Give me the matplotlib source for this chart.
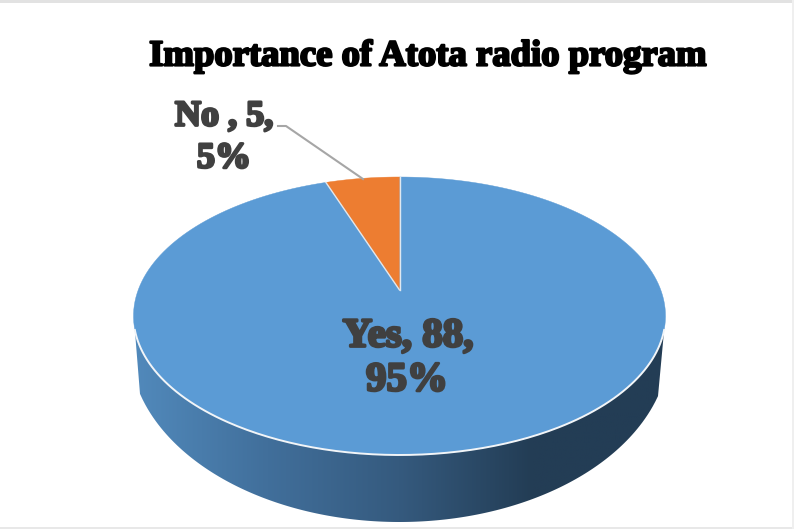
import numpy as np
import matplotlib
matplotlib.use("Agg")
import matplotlib.pyplot as plt
import matplotlib.patheffects as pe
from matplotlib.colors import LinearSegmentedColormap
from matplotlib.patches import Polygon, Rectangle

title = "Importance of Atota radio program"
categories = ["Yes", "No "]
counts = [88, 5]
colors = ["#5b9bd5", "#ed7d31"]
shade_stops = ["#5189bb", "#416f9b", "#355a7e", "#233d55", "#233d55"]

W, H = 794, 529
# pie geometry in pixels, the rim is a circle seen in perspective
cx = 399.5
apex_y = 290
top_y = 177
front_y = 455
half_width = 266
# where the side wall meets the rim, measured from three and nine o'clock
rim_margin = 0.286


def make_projection():
    c = (2 * apex_y - top_y - front_y) / (front_y - top_y) * -1
    a = top_y * (1 + c) - apex_y
    k = half_width * np.sqrt(1 - c * c)

    def project(theta):
        # theta runs clockwise from twelve o'clock, radians
        u, v = np.sin(theta), np.cos(theta)
        d = 1 + c * v
        return cx + k * u / d, (a * v + apex_y) / d

    return project


project = make_projection()


def wedge(start, end):
    t = np.linspace(start, end, 200)
    x, y = project(t)
    return np.column_stack([np.r_[cx, x], np.r_[apex_y, y]])


fig = plt.figure(figsize=(W / 100, H / 100), dpi=100)
ax = fig.add_axes([0, 0, 1, 1])

# side wall: front half of the rim down to the lower edge
rim_x, rim_y = project(np.linspace(np.pi / 2 + rim_margin, 3 * np.pi / 2 - rim_margin, 200))
low_x = np.linspace(140, 658, 200)
low_y = 345 + 177 * np.sqrt(1 - ((low_x - cx) / 270) ** 2)
side = Polygon(np.column_stack([np.r_[rim_x, low_x], np.r_[rim_y, low_y]]),
               closed=True, fc="none", ec="none")
ax.add_patch(side)
cmap = LinearSegmentedColormap.from_list("side", shade_stops)
shade = ax.imshow(np.linspace(0, 1, 256)[None, :], cmap=cmap, aspect="auto",
                  extent=[135, 664, 530, 300], zorder=1)
shade.set_clip_path(side)

# top face, slices laid out clockwise from twelve o'clock
total = sum(counts)
start = 0
for count, color in zip(counts, colors):
    end = start + 2 * np.pi * count / total
    ax.add_patch(Polygon(wedge(start, end), closed=True, fc=color, ec=color,
                         lw=0.3, zorder=2))
    start = end

# pale seams: slice borders and the front of the rim
for px, py in [project(2 * np.pi * counts[0] / total), project(0.0)]:
    ax.plot([cx, px], [apex_y, py], color="#dfe8f0", lw=1.0, zorder=3)
ax.plot(rim_x, rim_y, color="#f2f5f8", lw=1.4, zorder=3)

# leader line for the small slice
ax.plot([278, 286, 363], [126, 126, 179], color="#a6a6a6", lw=1.5, zorder=3)

ink = [pe.withStroke(linewidth=2.0, foreground="#404040")]
line_one_x = [408, 224]
line_two_x = [407, 224]
line_one_y = [337, 117]
line_two_y = [381, 159]
label_sizes = [29.5, 26]
for i, (count, name) in enumerate(zip(counts, categories)):
    pct = round(100 * count / total)
    ax.text(line_one_x[i], line_one_y[i], f"{name}, {count},", ha="center", va="center",
            family="Liberation Serif", weight="bold", fontsize=label_sizes[i],
            color="#404040", path_effects=ink, zorder=4)
    ax.text(line_two_x[i], line_two_y[i], f"{pct}%", ha="center", va="center",
            family="Liberation Serif", weight="bold", fontsize=label_sizes[i],
            color="#404040", path_effects=ink, zorder=4)

ax.text(427.5, 56, title, ha="center", va="center", family="Liberation Serif",
        weight="bold", fontsize=26.4, color="black",
        path_effects=[pe.withStroke(linewidth=1.6, foreground="black")], zorder=4)

# thin grey frame along the page edges
ax.add_patch(Rectangle((0, 0), W, 2.5, fc="#e2e2e2", ec="none", zorder=5))
ax.add_patch(Rectangle((0, 527), W, 2, fc="#e8e8e8", ec="none", zorder=5))
ax.add_patch(Rectangle((792, 0), 2, H, fc="#efefef", ec="none", zorder=5))

ax.set_xlim(0, W)
ax.set_ylim(H, 0)
ax.axis("off")
fig.savefig("out.png", dpi=100)
